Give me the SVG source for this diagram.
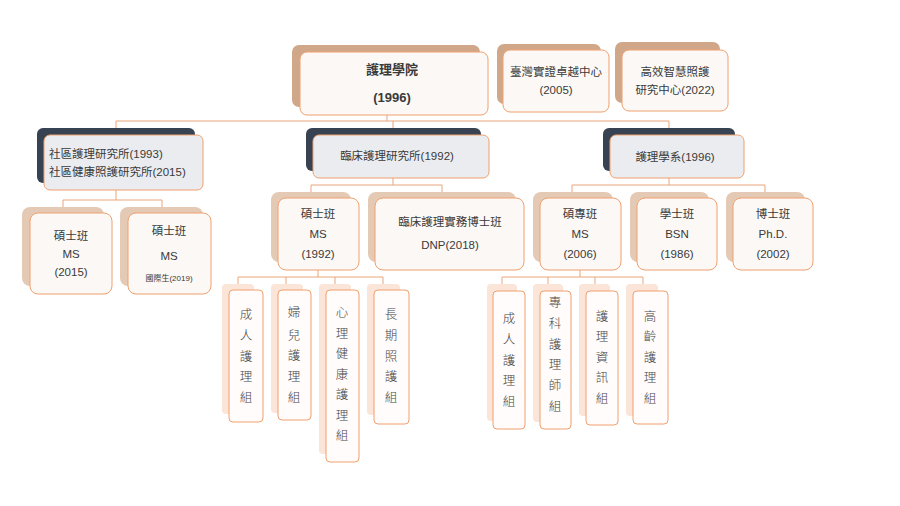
<svg xmlns="http://www.w3.org/2000/svg" width="900" height="506" viewBox="0 0 900 506">
<style>
text{font-family:"Liberation Sans","Noto Sans CJK TC",sans-serif;font-size:11.5px;fill:#3a3a3a;text-anchor:middle}
.v text{font-family:"Noto Sans CJK TC",sans-serif;font-size:12.5px;font-weight:300;fill:#444}
.f{fill:#fbf8f5;stroke:#f0a06e;stroke-width:1}
.f2{fill:#ebecef;stroke:#f0a06e;stroke-width:1}
.f4{fill:#fffcfb;stroke:#f0a06e;stroke-width:1}
.b1{fill:#d1a78a}.b2{fill:#374252}.b3{fill:#e4c9b5}.b4{fill:#fbe4d8}
.c{fill:none;stroke:#eaa57a;stroke-width:1}
.bold{font-weight:bold;font-size:13px}
</style>
<rect width="900" height="506" fill="#fff"/>
<g id="connectors">
<path class="c" d="M387 115V121M116 128V121H669V128M393 121V128"/>
<path class="c" d="M116 190V200M63 207V200H162V207"/>
<path class="c" d="M393 178V185M311 192V185H442V192"/>
<path class="c" d="M669 178V185M572 192V185H765V192"/>
<path class="c" d="M318 270V277M238 284V277H383V284M286 277V284M335 277V284"/>
<path class="c" d="M580 270V277M502 284V277H643V284M548 277V284M595 277V284"/>
</g>
<g id="root"><rect class="b1" x="292" y="45" width="188" height="62" rx="7"/><rect class="f" x="300" y="52" width="188" height="63" rx="7"/><text class="bold" x="392" y="74">護理學院</text><text class="bold" x="392" y="102">(1996)</text></g>
<g id="twcenter"><rect class="b1" x="497" y="44" width="104" height="60" rx="7"/><rect class="f" x="503" y="50" width="106" height="62" rx="7"/><text x="556" y="76">臺灣實證卓越中心</text><text x="556" y="94">(2005)</text></g>
<g id="smartcenter"><rect class="b1" x="615" y="42" width="105" height="61" rx="7"/><rect class="f" x="622" y="50" width="106" height="61" rx="7"/><text x="675" y="76">高效智慧照護</text><text x="675" y="94">研究中心(2022)</text></g>
<g id="community"><rect class="b2" x="37" y="128" width="158" height="55" rx="6"/><rect class="f2" x="44" y="135" width="159" height="55" rx="6"/><text x="49" y="158" style="text-anchor:start">社區護理研究所(1993)</text><text x="49" y="176" style="text-anchor:start">社區健康照護研究所(2015)</text></g>
<g id="clinical"><rect class="b2" x="306" y="128" width="175" height="43" rx="6"/><rect class="f2" x="313" y="135" width="176" height="43" rx="6"/><text x="397" y="160">臨床護理研究所(1992)</text></g>
<g id="dept"><rect class="b2" x="603" y="128" width="132" height="43" rx="6"/><rect class="f2" x="610" y="135" width="134" height="43" rx="6"/><text x="675" y="161">護理學系(1996)</text></g>
<g id="ms2015"><rect class="b3" x="22" y="207" width="82" height="79" rx="8"/><rect class="f" x="30" y="213" width="82" height="81" rx="8"/><text x="71" y="240">碩士班</text><text x="71" y="258">MS</text><text x="71" y="276">(2015)</text></g>
<g id="msintl"><rect class="b3" x="120" y="207" width="83" height="79" rx="8"/><rect class="f" x="128" y="213" width="83" height="81" rx="8"/><text x="169" y="235">碩士班</text><text x="169" y="260">MS</text><text x="169" y="281" style="font-size:8px">國際生(2019)</text></g>
<g id="ms1992"><rect class="b3" x="271" y="192" width="80" height="70" rx="8"/><rect class="f" x="278" y="198" width="81" height="72" rx="8"/><text x="318" y="218">碩士班</text><text x="318" y="238">MS</text><text x="318" y="258">(1992)</text></g>
<g id="dnp"><rect class="b3" x="368" y="192" width="148" height="70" rx="8"/><rect class="f" x="375" y="198" width="149" height="72" rx="8"/><text x="450" y="226">臨床護理實務博士班</text><text x="450" y="249">DNP(2018)</text></g>
<g id="ms2006"><rect class="b3" x="533" y="192" width="80" height="70" rx="8"/><rect class="f" x="540" y="198" width="81" height="72" rx="8"/><text x="580" y="218">碩專班</text><text x="580" y="238">MS</text><text x="580" y="258">(2006)</text></g>
<g id="bsn"><rect class="b3" x="630" y="192" width="79" height="70" rx="8"/><rect class="f" x="637" y="198" width="80" height="72" rx="8"/><text x="677" y="218">學士班</text><text x="677" y="238">BSN</text><text x="677" y="258">(1986)</text></g>
<g id="phd"><rect class="b3" x="726" y="192" width="79" height="70" rx="8"/><rect class="f" x="733" y="198" width="80" height="72" rx="8"/><text x="773" y="218">博士班</text><text x="773" y="238">Ph.D.</text><text x="773" y="258">(2002)</text></g>
<g id="l-adult" class="v"><rect class="b4" x="222" y="284" width="32" height="130" rx="4"/><rect class="f4" x="229" y="290" width="34" height="132" rx="4"/><text x="246" y="319">成</text><text x="246" y="340">人</text><text x="246" y="361">護</text><text x="246" y="381">理</text><text x="246" y="402">組</text></g>
<g id="l-women" class="v"><rect class="b4" x="271" y="284" width="32" height="129" rx="4"/><rect class="f4" x="278" y="290" width="33" height="130" rx="4"/><text x="294" y="317">婦</text><text x="294" y="340">兒</text><text x="294" y="360">護</text><text x="294" y="381">理</text><text x="294" y="402">組</text></g>
<g id="l-mental" class="v"><rect class="b4" x="319" y="284" width="32" height="170" rx="4"/><rect class="f4" x="326" y="290" width="33" height="172" rx="4"/><text x="342" y="317">心</text><text x="342" y="338">理</text><text x="342" y="358">健</text><text x="342" y="379">康</text><text x="342" y="399">護</text><text x="342" y="420">理</text><text x="342" y="440">組</text></g>
<g id="l-ltc" class="v"><rect class="b4" x="367" y="284" width="33" height="131" rx="4"/><rect class="f4" x="374" y="290" width="35" height="134" rx="4"/><text x="391" y="319">長</text><text x="391" y="340">期</text><text x="391" y="361">照</text><text x="391" y="381">護</text><text x="391" y="402">組</text></g>
<g id="r-adult" class="v"><rect class="b4" x="487" y="284" width="30" height="137" rx="4"/><rect class="f4" x="493" y="291" width="32" height="138" rx="4"/><text x="509" y="323">成</text><text x="509" y="344">人</text><text x="509" y="365">護</text><text x="509" y="385">理</text><text x="509" y="406">組</text></g>
<g id="r-np" class="v"><rect class="b4" x="533" y="284" width="30" height="138" rx="4"/><rect class="f4" x="540" y="291" width="31" height="138" rx="4"/><text x="555" y="307">專</text><text x="555" y="328">科</text><text x="555" y="349">護</text><text x="555" y="369">理</text><text x="555" y="390">師</text><text x="555" y="411">組</text></g>
<g id="r-info" class="v"><rect class="b4" x="579" y="284" width="31" height="132" rx="4"/><rect class="f4" x="586" y="291" width="32" height="134" rx="4"/><text x="602" y="321">護</text><text x="602" y="341">理</text><text x="602" y="362">資</text><text x="602" y="382">訊</text><text x="602" y="403">組</text></g>
<g id="r-geri" class="v"><rect class="b4" x="626" y="284" width="32" height="132" rx="4"/><rect class="f4" x="633" y="291" width="35" height="133" rx="4"/><text x="650" y="321">高</text><text x="650" y="341">齡</text><text x="650" y="362">護</text><text x="650" y="382">理</text><text x="650" y="403">組</text></g>
</svg>
